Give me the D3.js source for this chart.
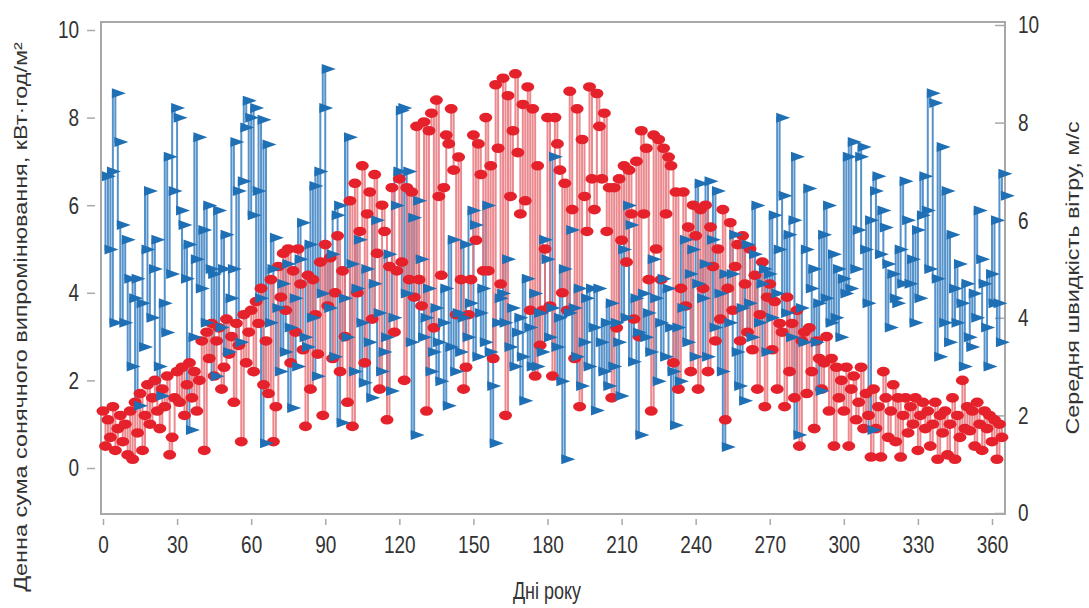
<!DOCTYPE html>
<html>
<head>
<meta charset="utf-8">
<title>Сонячне випромінювання та швидкість вітру</title>
<script src="https://d3js.org/d3.v7.min.js"></script>
<style>
  body { margin: 0; background: #fff; }
  text { font-family: "Liberation Sans", Arial, sans-serif; fill: #333; }
</style>
</head>
<body>
<svg width="1089" height="608"></svg>
<script>
// daily solar radiation sum, kWh/m2 (left axis), days 0..364
const solar = [
  1.3, 0.5, 1.1, 0.7, 1.4, 0.4, 0.9, 1.2, 0.6, 1.0,
  0.3, 1.3, 0.2, 1.5, 0.8, 1.7, 0.4, 1.2, 1.9, 1.0,
  1.6, 2.0, 1.3, 0.9, 1.8, 1.4, 2.1, 0.3, 0.7, 1.6,
  2.2, 1.5, 2.3, 1.2, 1.9, 2.4, 1.6, 2.2, 1.3, 2.0,
  2.9, 0.4, 3.1, 2.5, 3.3, 2.1, 2.9, 3.2, 1.8, 2.3,
  3.4, 2.6, 3.0, 1.5, 3.3, 2.8, 0.6, 3.5, 2.4, 3.1,
  3.6, 2.2, 3.8, 3.3, 4.1, 1.9, 2.9, 1.7, 4.3, 0.6,
  1.4, 4.6, 3.9, 4.9, 3.6, 5.0, 2.4, 4.5, 3.1, 5.0,
  4.2, 2.7, 0.95, 4.4, 1.8, 4.3, 3.5, 2.6, 4.7, 1.2,
  5.1, 3.7, 4.8, 2.5, 4.0, 5.3, 2.2, 4.5, 3.0, 1.5,
  6.1, 0.95, 6.5, 4.0, 5.4, 6.9, 2.4, 5.8, 6.3, 3.4,
  6.7, 4.9, 1.8, 6.0, 5.4, 1.1, 4.6, 6.4, 3.1, 4.5,
  6.6, 4.7, 2.0, 6.4, 4.3, 6.3, 3.9, 7.8, 4.3, 3.7,
  7.9, 1.3, 7.7, 8.1, 3.2, 8.4, 6.2, 4.4, 6.4, 7.6,
  7.4, 8.2, 6.8, 3.5, 7.1, 4.3, 1.8, 2.3, 3.5, 4.3,
  7.6, 5.2, 7.4, 6.7, 4.5, 8.0, 4.5, 6.9, 2.5, 8.75,
  7.3, 4.2, 8.9, 1.2, 8.5, 6.2, 7.7, 9.0, 7.2, 5.8,
  8.3, 6.1, 8.7, 3.6, 8.2, 2.1, 6.9, 2.8, 3.6, 5.0,
  8.0, 3.7, 2.1, 8.0, 7.4, 6.8, 4.0, 6.5, 3.6, 8.6,
  5.9, 2.5, 8.2, 1.4, 7.5, 6.2, 5.4, 8.7, 6.6, 5.9,
  8.55, 7.8, 6.6, 8.1, 5.4, 6.4, 1.6, 6.4, 3.2, 6.6,
  5.2, 6.9, 4.7, 6.8, 5.8, 3.4, 7.0, 3.0, 7.7, 5.8,
  7.3, 4.3, 1.3, 7.6, 5.0, 7.5, 4.3, 7.3, 5.8, 7.1,
  6.9, 2.4, 6.3, 1.8, 4.1, 6.3, 3.7, 5.5, 2.2, 6.0,
  5.3, 1.8, 5.9, 4.1, 6.0, 2.2, 5.5, 4.6, 2.9, 5.0,
  3.4, 5.9, 1.1, 4.1, 5.6, 3.6, 4.6, 5.1, 2.9, 5.3,
  4.2, 3.1, 5.0, 2.7, 4.4, 1.8, 3.5, 4.7, 1.4, 3.9,
  4.2, 2.7, 3.8, 1.8, 3.3, 3.1, 1.4, 3.9, 2.2, 3.3,
  1.6, 3.6, 0.5, 2.9, 3.1, 1.7, 3.2, 2.2, 0.9, 2.9,
  2.5, 1.8, 2.4, 3.0, 1.3, 2.5, 0.5, 2.3, 1.6, 2.0,
  1.3, 2.3, 0.5, 1.8, 2.1, 1.1, 1.5, 2.3, 0.9, 1.7,
  1.2, 0.25, 1.8, 0.9, 1.4, 0.25, 2.2, 1.6, 0.7, 1.3,
  1.9, 0.6, 1.6, 0.25, 1.2, 1.6, 0.8, 1.4, 1.0, 1.6,
  0.4, 1.2, 1.5, 0.9, 1.3, 0.5, 1.0, 1.5, 0.2, 1.2,
  0.8, 1.3, 0.3, 1.0, 1.6, 0.2, 1.2, 0.7, 2.0, 0.9,
  1.4, 0.85, 1.3, 0.5, 1.5, 1.0, 0.4, 1.3, 0.9, 1.2,
  0.6, 1.1, 0.2, 1.0, 0.7
]

// mean wind speed, m/s (right axis), days 0..364
const wind = [
  6.9, 5.4, 7.0, 3.9, 8.6, 7.6, 5.9, 3.9, 5.6, 4.8,
  3.0, 4.4, 4.8, 2.2, 4.3, 3.4, 5.4, 6.6, 4.0, 5.0,
  5.6, 3.0, 2.4, 4.3, 3.7, 7.3, 4.9, 6.6, 8.3, 8.1,
  6.2, 5.9, 4.8, 5.5, 1.7, 3.6, 5.2, 7.7, 4.6, 5.8,
  3.9, 6.3, 5.0, 4.9, 2.8, 6.2, 3.8, 5.0, 5.7, 3.3,
  4.4, 5.0, 7.6, 6.6, 3.5, 6.8, 7.9, 8.45, 8.1, 6.1,
  8.3, 6.6, 4.4, 8.06, 1.43, 7.55, 3.9, 5.0, 5.64, 4.2,
  2.9, 4.7, 3.3, 5.1, 3.8, 2.15, 4.4, 3.0, 5.2, 5.95,
  3.6, 3.4, 5.5, 4.0, 6.7, 2.8, 7.0, 4.5, 8.3, 9.1,
  4.2, 5.3, 3.2, 6.1, 6.3, 1.85, 4.4, 3.6, 7.7, 5.1,
  2.9, 4.6, 5.6, 3.9, 2.67, 5.0, 3.5, 2.36, 4.7, 6.0,
  4.1, 2.9, 3.3, 3.6, 5.3, 2.5, 4.0, 6.3, 7.0, 8.25,
  8.3, 4.5, 7.0, 3.5, 6.05, 1.6, 6.4, 5.2, 3.6, 4.0,
  4.6, 2.9, 3.3, 4.2, 3.5, 2.7, 3.9, 4.6, 2.2, 3.4,
  5.6, 2.9, 4.1, 3.3, 4.0, 5.5, 3.6, 4.3, 6.2, 5.9,
  3.2, 4.1, 4.6, 3.5, 6.3, 3.3, 2.6, 1.43, 3.9, 4.4,
  4.5, 3.9, 5.2, 3.4, 4.2, 3.0, 3.7, 4.0, 3.2, 2.3,
  4.8, 3.8, 3.0, 4.5, 3.0, 4.1, 3.3, 5.6, 5.2, 3.6,
  4.2, 7.3, 3.4, 4.0, 2.7, 5.0, 1.1, 4.1, 5.8, 4.2,
  3.2, 4.6, 2.6, 3.5, 4.4, 3.0, 4.6, 3.8, 2.1, 4.6,
  3.5, 2.9, 3.9, 2.6, 4.3, 3.0, 3.9, 3.5, 2.4, 5.4,
  4.0, 6.3, 5.9, 3.1, 4.4, 3.7, 1.6, 4.5, 3.6, 4.1,
  3.3, 5.2, 4.4, 2.7, 3.9, 4.8, 3.2, 4.6, 3.8, 2.9,
  1.8, 3.8, 2.7, 4.2, 5.6, 3.5, 4.9, 5.4, 3.2, 4.7,
  6.75, 4.4, 5.1, 3.2, 6.8, 5.6, 3.8, 6.6, 4.5, 2.9,
  4.9, 1.35, 3.9, 4.9, 5.7, 3.3, 2.6, 4.2, 2.3, 5.5,
  4.3, 3.6, 5.3, 6.3, 3.9, 4.7, 5.0, 3.3, 4.9, 4.0,
  6.1, 4.5, 5.4, 8.1, 6.5, 4.1, 5.7, 3.6, 6.0, 7.3,
  1.6, 4.2, 3.5, 5.4, 6.65, 4.6, 5.0, 3.5, 4.3, 2.5,
  5.7, 4.4, 6.3, 3.9, 5.3, 4.0, 5.0, 3.6, 4.8, 4.5,
  7.3, 4.6, 7.6, 5.0, 5.8, 7.3, 7.5, 5.4, 4.3, 6.0,
  1.7, 6.6, 6.9, 5.3, 6.2, 5.85, 5.1, 3.8, 4.9, 4.4,
  4.3, 5.4, 4.7, 6.8, 6.0, 4.7, 5.2, 3.9, 5.8, 4.4,
  6.1, 6.9, 6.2, 5.0, 8.6, 8.4, 4.8, 3.2, 7.5, 3.9,
  6.6, 3.5, 5.7, 4.6, 3.9, 5.1, 4.3, 3.0, 4.7, 3.6,
  3.4, 4.5, 4.0, 6.2, 5.2, 4.7, 3.8, 3.0, 4.9, 4.3,
  6.0, 4.3, 3.5, 6.95, 6.5
]

const xTicks = [0, 30, 60, 90, 120, 150, 180, 210, 240, 270, 300, 330, 360]
const yTicks = [0, 2, 4, 6, 8, 10]

const xTitle = "Дні року"
const yLeftTitle = "Денна сума сонячного випромінювання, кВт·год/м²"
const yRightTitle = "Середня швидкість вітру, м/с"

const svg = d3.select("svg")
const frame = { left: 101, right: 1005, top: 22, bottom: 514 }
const stretch = 1.3   // text in the picture is drawn tall and narrow

const xScale = d3.scaleLinear().domain([0, 360]).range([103, 992])
const yLeft = d3.scaleLinear().domain([0, 10]).range([468, 30])
const yRight = d3.scaleLinear().domain([0, 10]).range([513, 25])

const days = d3.range(solar.length)

// frame
svg.append("rect")
    .attr("x", frame.left).attr("y", frame.top)
    .attr("width", frame.right - frame.left)
    .attr("height", frame.bottom - frame.top)
    .attr("fill", "none")
    .attr("stroke", "#a8a8a8")
    .attr("stroke-width", 2)

const styleAxis = g => {
    g.select(".domain").remove()
    g.selectAll(".tick line").attr("stroke", "#a8a8a8").attr("stroke-width", 1.5)
    g.selectAll(".tick text")
        .attr("fill", "#333")
        .style("font-size", "19px")
        .style("font-family", "'Liberation Sans', Arial, sans-serif")
}

// bottom axis, ticks sit under the frame with a small gap
const xAxisG = svg.append("g")
    .attr("transform", `translate(0, ${frame.bottom + 5})`)
    .call(d3.axisBottom(xScale).tickValues(xTicks).tickSize(6).tickPadding(7))
styleAxis(xAxisG)
xAxisG.selectAll(".tick text").attr("transform", `scale(1, ${stretch})`)

// left axis
const yLeftG = svg.append("g")
    .attr("transform", `translate(${frame.left - 6}, 0)`)
    .call(d3.axisLeft(yLeft).tickValues(yTicks).tickSize(8).tickPadding(8))
styleAxis(yLeftG)
yLeftG.selectAll(".tick text").attr("transform", `scale(1, ${stretch})`)

// right axis, ticks point into the plot
const yRightG = svg.append("g")
    .attr("transform", `translate(${frame.right}, 0)`)
    .call(d3.axisRight(yRight).tickValues(yTicks).tickSize(-10).tickPadding(13))
styleAxis(yRightG)
yRightG.selectAll(".tick text").attr("transform", `scale(1, ${stretch})`)

// titles
svg.append("text")
    .attr("transform", `translate(547, 599) scale(1, ${stretch})`)
    .attr("text-anchor", "middle")
    .style("font-size", "18px")
    .text(xTitle)

svg.append("text")
    .attr("transform", `translate(27, 317) rotate(-90) scale(${stretch}, 1)`)
    .attr("text-anchor", "middle")
    .style("font-size", "18px")
    .text(yLeftTitle)

svg.append("text")
    .attr("transform", `translate(1079, 278) rotate(-90) scale(${stretch}, 1)`)
    .attr("text-anchor", "middle")
    .style("font-size", "18px")
    .text(yRightTitle)

// series, drawn as steps so the joins look like vertical drops
const windLine = d3.line().curve(d3.curveStepAfter)
    .x(d => xScale(d)).y(d => yRight(wind[d]))
const solarLine = d3.line().curve(d3.curveStepAfter)
    .x(d => xScale(d)).y(d => yLeft(solar[d]))

const plot = svg.append("g")

plot.append("path")
    .datum(days)
    .attr("d", windLine)
    .attr("fill", "none")
    .attr("stroke", "#3a80c2")
    .attr("stroke-width", 2)
    .attr("stroke-opacity", 0.85)

plot.append("path")
    .datum(days)
    .attr("d", solarLine)
    .attr("fill", "none")
    .attr("stroke", "#e8747a")
    .attr("stroke-width", 2)
    .attr("stroke-opacity", 0.85)

plot.selectAll(".sun")
    .data(days)
    .enter()
    .append("ellipse")
    .attr("class", "sun")
    .attr("cx", d => xScale(d))
    .attr("cy", d => yLeft(solar[d]))
    .attr("rx", 6.5)
    .attr("ry", 4.8)
    .attr("fill", "#e5222b")

// flag-like triangles, the left edge sits on the data point
plot.selectAll(".wind")
    .data(days)
    .enter()
    .append("path")
    .attr("class", "wind")
    .attr("transform", d => `translate(${xScale(d) - 1}, ${yRight(wind[d])})`)
    .attr("d", "M0,-5L14,0L0,5Z")
    .attr("fill", "#1f6fb5")
</script>
</body>
</html>
